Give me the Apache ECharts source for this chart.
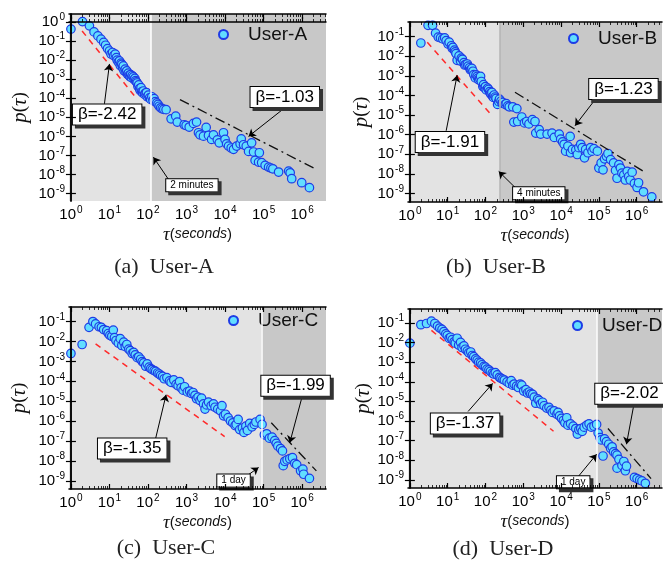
<!DOCTYPE html>
<html>
<head>
<meta charset="utf-8">
<script src="https://cdn.jsdelivr.net/npm/echarts@6/dist/echarts.min.js"></script>
<style>
html, body { margin: 0; padding: 0; background: #fff; }
#main { width: 663px; height: 563px; }
</style>
</head>
<body>
<div id="main"></div>
<script>
const chart = echarts.init(document.querySelector("#main"));

// points: [log10(tau seconds), log10(p)]
const userA = [[0.00,-0.37],[0.30,0.02],[0.48,-0.20],[0.60,-0.52],[0.70,-0.73],[0.78,-0.90],[0.85,-1.07],[0.90,-1.22],[0.95,-1.40],[1.00,-1.52],[1.04,-1.68],[1.08,-1.60],[1.11,-1.76],[1.15,-1.69],[1.18,-1.87],[1.20,-2.00],[1.23,-2.10],[1.26,-2.04],[1.28,-2.28],[1.30,-2.16],[1.32,-2.22],[1.34,-2.40],[1.36,-2.30],[1.38,-2.56],[1.41,-2.47],[1.43,-2.62],[1.45,-2.56],[1.47,-2.74],[1.49,-2.68],[1.51,-2.80],[1.53,-2.86],[1.55,-2.76],[1.57,-2.92],[1.59,-2.82],[1.62,-2.88],[1.64,-3.02],[1.66,-2.96],[1.68,-3.08],[1.70,-3.14],[1.72,-3.20],[1.74,-3.38],[1.76,-3.30],[1.78,-3.50],[1.80,-3.60],[1.82,-3.44],[1.84,-3.66],[1.86,-3.72],[1.88,-3.62],[1.91,-3.80],[1.93,-3.74],[1.96,-3.70],[1.98,-3.92],[2.01,-3.84],[2.04,-3.98],[2.07,-4.06],[2.10,-3.92],[2.13,-4.12],[2.16,-4.02],[2.19,-4.18],[2.23,-4.24],[2.26,-4.32],[2.29,-4.42],[2.33,-4.50],[2.37,-4.55],[2.41,-4.58],[2.47,-4.60],[2.60,-5.08],[2.72,-4.94],[2.76,-5.25],[2.94,-5.39],[2.99,-5.43],[3.07,-5.51],[3.18,-5.32],[3.26,-5.25],[3.31,-5.81],[3.35,-5.92],[3.44,-5.99],[3.51,-5.53],[3.57,-5.95],[3.65,-6.16],[3.70,-5.92],[3.80,-6.18],[3.85,-6.34],[3.96,-5.81],[4.00,-6.16],[4.04,-6.39],[4.09,-6.51],[4.16,-6.61],[4.22,-6.68],[4.30,-6.51],[4.39,-6.39],[4.42,-6.13],[4.48,-6.44],[4.55,-6.51],[4.61,-6.79],[4.69,-6.34],[4.74,-6.82],[4.89,-6.86],[4.78,-7.26],[4.87,-7.35],[4.95,-7.38],[5.04,-7.52],[5.13,-7.61],[5.19,-7.66],[5.24,-7.70],[5.39,-7.87],[5.65,-7.82],[5.69,-7.91],[5.73,-8.22],[5.99,-8.43],[6.19,-8.69]];

const userB = [[0.29,-1.33],[0.48,-0.43],[0.60,-0.43],[0.68,-0.83],[0.75,-1.03],[0.81,-1.07],[0.87,-1.12],[0.92,-1.07],[0.96,-1.21],[1.01,-1.38],[1.04,-1.29],[1.10,-1.47],[1.12,-1.60],[1.14,-1.55],[1.18,-1.69],[1.20,-1.78],[1.22,-1.87],[1.25,-2.21],[1.30,-1.99],[1.34,-2.25],[1.36,-2.10],[1.39,-2.16],[1.43,-2.33],[1.45,-2.45],[1.48,-2.42],[1.52,-2.40],[1.54,-2.51],[1.58,-2.59],[1.60,-2.70],[1.62,-2.68],[1.64,-2.62],[1.67,-2.77],[1.69,-2.94],[1.73,-3.11],[1.75,-2.95],[1.78,-3.03],[1.80,-3.12],[1.82,-3.20],[1.85,-3.15],[1.87,-3.03],[1.89,-3.29],[1.93,-3.55],[1.95,-3.45],[1.97,-3.60],[2.00,-3.55],[2.02,-3.72],[2.06,-3.63],[2.08,-3.70],[2.11,-3.81],[2.13,-3.90],[2.15,-3.94],[2.17,-3.85],[2.19,-4.06],[2.21,-4.10],[2.23,-3.98],[2.26,-4.08],[2.28,-4.15],[2.32,-4.46],[2.35,-4.32],[2.37,-4.19],[2.41,-4.29],[2.44,-4.40],[2.46,-4.36],[2.52,-4.46],[2.55,-4.42],[2.59,-4.53],[2.63,-4.58],[2.72,-4.58],[2.83,-4.67],[2.75,-5.36],[2.85,-5.33],[2.96,-5.10],[3.03,-5.40],[3.09,-5.33],[3.15,-5.45],[3.24,-5.23],[3.31,-5.33],[3.33,-5.92],[3.42,-5.74],[3.46,-5.97],[3.63,-5.97],[3.76,-5.92],[3.82,-6.14],[3.95,-5.97],[3.99,-6.23],[4.04,-6.37],[4.08,-6.49],[4.12,-6.84],[4.18,-6.58],[4.24,-6.09],[4.25,-6.92],[4.30,-6.75],[4.39,-6.78],[4.43,-7.01],[4.47,-6.66],[4.52,-6.49],[4.56,-6.66],[4.62,-7.18],[4.65,-6.75],[4.71,-6.92],[4.78,-6.66],[4.82,-6.84],[4.87,-6.71],[4.96,-6.84],[5.00,-7.70],[5.06,-7.44],[5.11,-7.79],[5.15,-7.23],[5.20,-7.10],[5.24,-6.96],[5.31,-7.27],[5.39,-7.44],[5.44,-7.82],[5.48,-8.22],[5.53,-7.53],[5.57,-7.70],[5.61,-7.96],[5.66,-8.05],[5.70,-8.31],[5.75,-7.87],[5.79,-8.13],[5.83,-8.31],[5.88,-7.91],[5.94,-8.48],[6.01,-8.69],[6.05,-8.45],[6.18,-8.91],[6.40,-9.17]];

const userC = [[0.00,-2.60],[0.29,-2.15],[0.47,-1.29],[0.57,-1.00],[0.64,-1.12],[0.73,-1.26],[0.79,-1.29],[0.85,-1.40],[0.93,-1.46],[0.97,-1.60],[1.01,-1.69],[1.06,-1.74],[1.10,-1.43],[1.13,-1.81],[1.17,-1.95],[1.23,-2.08],[1.28,-1.86],[1.32,-2.20],[1.37,-2.03],[1.41,-2.26],[1.45,-2.15],[1.50,-2.38],[1.54,-2.46],[1.59,-2.60],[1.63,-2.55],[1.67,-2.67],[1.72,-2.81],[1.76,-2.77],[1.81,-2.89],[1.85,-3.01],[1.89,-3.07],[1.94,-3.24],[1.98,-3.12],[2.03,-3.29],[2.07,-3.36],[2.11,-3.41],[2.16,-3.46],[2.20,-3.50],[2.25,-3.58],[2.29,-3.63],[2.33,-3.70],[2.38,-3.75],[2.42,-3.87],[2.49,-3.81],[2.56,-3.98],[2.60,-4.05],[2.67,-3.93],[2.73,-4.15],[2.78,-4.22],[2.82,-4.01],[2.86,-4.32],[2.91,-4.44],[2.95,-4.27],[3.02,-4.53],[3.08,-4.49],[3.13,-4.61],[3.17,-4.56],[3.22,-4.70],[3.26,-4.87],[3.30,-4.79],[3.35,-4.96],[3.39,-4.84],[3.44,-5.13],[3.48,-5.39],[3.52,-5.18],[3.57,-5.04],[3.64,-5.22],[3.70,-5.13],[3.74,-5.30],[3.81,-5.39],[3.88,-5.48],[3.92,-5.22],[3.96,-5.73],[4.01,-5.65],[4.08,-5.82],[4.14,-5.99],[4.20,-6.08],[4.26,-6.22],[4.29,-6.16],[4.34,-5.91],[4.38,-6.42],[4.45,-6.34],[4.49,-6.56],[4.54,-6.25],[4.58,-6.46],[4.64,-6.11],[4.70,-6.28],[4.76,-6.16],[4.80,-6.04],[4.91,-5.91],[4.96,-6.16],[5.02,-6.68],[5.08,-6.63],[5.15,-6.85],[5.22,-6.80],[5.29,-6.97],[5.33,-7.11],[5.37,-7.25],[5.44,-7.37],[5.49,-7.49],[5.51,-8.23],[5.55,-8.01],[5.61,-7.94],[5.68,-7.88],[5.75,-7.83],[5.81,-8.11],[5.86,-8.18],[5.96,-8.49],[6.02,-8.40],[6.04,-8.66],[6.19,-8.87]];

const userD = [[0.00,-2.03],[0.29,-1.09],[0.44,-1.03],[0.57,-0.91],[0.66,-1.03],[0.73,-1.16],[0.79,-1.26],[0.85,-1.33],[0.90,-1.44],[0.95,-1.56],[0.99,-1.64],[1.04,-1.78],[1.08,-1.73],[1.12,-1.85],[1.17,-1.96],[1.20,-2.03],[1.25,-1.78],[1.29,-2.13],[1.34,-1.99],[1.38,-2.25],[1.43,-2.17],[1.47,-2.34],[1.52,-2.43],[1.56,-2.52],[1.61,-2.48],[1.65,-2.66],[1.69,-2.72],[1.74,-2.83],[1.78,-2.90],[1.82,-3.00],[1.87,-3.04],[1.91,-3.13],[1.96,-3.21],[2.00,-3.25],[2.04,-3.35],[2.09,-3.39],[2.13,-3.47],[2.18,-3.56],[2.22,-3.60],[2.26,-3.53],[2.31,-3.65],[2.37,-3.77],[2.41,-3.82],[2.46,-3.87],[2.50,-3.91],[2.57,-4.00],[2.63,-4.08],[2.68,-3.94],[2.72,-4.17],[2.76,-4.12],[2.82,-4.22],[2.87,-4.29],[2.92,-4.12],[2.96,-4.17],[3.01,-4.47],[3.07,-4.40],[3.11,-4.57],[3.16,-4.52],[3.20,-4.61],[3.25,-4.64],[3.29,-4.78],[3.33,-5.09],[3.38,-4.87],[3.42,-4.95],[3.46,-5.13],[3.51,-5.04],[3.55,-5.22],[3.62,-5.34],[3.68,-5.30],[3.73,-5.44],[3.77,-5.56],[3.82,-5.48],[3.89,-5.65],[3.92,-5.56],[3.96,-5.74],[4.01,-5.86],[4.06,-5.97],[4.10,-6.09],[4.15,-5.83],[4.18,-6.21],[4.25,-6.14],[4.32,-6.26],[4.39,-6.38],[4.43,-6.66],[4.47,-6.44],[4.52,-6.38],[4.56,-6.52],[4.61,-6.31],[4.68,-6.21],[4.74,-6.14],[4.80,-6.31],[4.87,-6.26],[4.94,-6.17],[4.98,-6.61],[5.03,-6.84],[5.06,-6.96],[5.11,-7.78],[5.15,-6.91],[5.20,-7.05],[5.26,-7.18],[5.31,-7.39],[5.35,-7.31],[5.39,-7.57],[5.44,-7.66],[5.48,-7.74],[5.53,-7.95],[5.48,-8.40],[5.61,-8.26],[5.66,-8.06],[5.70,-8.53],[5.73,-8.30],[5.94,-8.87],[6.01,-8.93],[6.08,-9.00],[6.14,-9.05],[6.23,-9.17]];

const users = ["User-A", "User-B", "User-C", "User-D"];
const captions = ["(a)  User-A", "(b)  User-B", "(c)  User-C", "(d)  User-D"];

// power-law guides, [start, end] in log10 units
const redFits = [
    [[0.29, -0.47], [1.71, -4.03]],
    [[0.46, -1.29], [2.15, -4.98]],
    [[0.64, -2.12], [3.99, -6.77]],
    [[0.57, -1.38], [3.80, -6.52]]
];
const blackFits = [
    [[2.83, -4.07], [6.34, -7.70]],
    [[2.78, -3.84], [6.23, -7.93]],
    [[5.20, -6.08], [6.37, -8.49]],
    [[5.24, -6.38], [6.38, -8.93]]
];
const betaRed = ["β=-2.42", "β=-1.91", "β=-1.35", "β=-1.37"];
const betaBlack = ["β=-1.03", "β=-1.23", "β=-1.99", "β=-2.02"];
// regime boundary in seconds
const thresholdSec = [120, 240, 86400, 86400];
const thresholdText = ["2 minutes", "4 minutes", "1 day", "1 day"];
const xTicks = [0, 1, 2, 3, 4, 5, 6];

// placement of the panels and annotations (positions, not data)
const layout = [
    { left: 69, top: 14, width: 257, height: 187, x: [-0.05, 6.62], y: [-9.39, 0.42], nameGap: 38, cap: [164, 267], legend: [218, 25],
      boxRed: [0.94, -4.85], boxBlack: [5.55, -3.94], boxThr: [3.14, -8.57],
      arrRed: [[0.87, -4.29], [1.0, -2.2]], arrBlack: [[5.52, -4.55], [4.61, -6.0]], arrThr: [[2.53, -8.25], [2.14, -7.09]], thrLine: "#ffffff" },
    { left: 408, top: 22, width: 254, height: 180, x: [-0.05, 6.67], y: [-9.43, -0.26], nameGap: 36, cap: [496, 267], legend: [568, 29],
      boxRed: [1.06, -6.37], boxBlack: [5.65, -3.67], boxThr: [3.41, -8.98],
      arrRed: [[0.96, -5.8], [1.25, -2.97]], arrBlack: [[4.87, -4.29], [4.37, -5.54]], arrThr: [[2.81, -8.74], [2.35, -7.87]], thrLine: "#b4b4b4" },
    { left: 69, top: 307, width: 257, height: 182, x: [-0.05, 6.62], y: [-9.4, -0.27], nameGap: 39, cap: [166, 548], legend: [228, 311],
      boxRed: [1.59, -7.37], boxBlack: [5.83, -4.22], boxThr: [4.22, -8.97],
      arrRed: [[2.2, -6.85], [2.47, -4.67]], arrBlack: [[5.99, -4.84], [5.68, -7.08]], arrThr: [[4.56, -8.75], [4.87, -8.32]], thrLine: "#ffffff" },
    { left: 408, top: 309, width: 254, height: 179, x: [-0.05, 6.67], y: [-9.41, -0.29], nameGap: 34, cap: [503, 549], legend: [572, 316],
      boxRed: [1.46, -6.12], boxBlack: [5.81, -4.61], boxThr: [4.32, -9.12],
      arrRed: [[1.54, -5.51], [2.19, -4.08]], arrBlack: [[5.92, -5.22], [5.73, -7.18]], arrThr: [[4.47, -8.79], [4.94, -7.69]], thrLine: "#ffffff" }
];

const allData = [userA, userB, userC, userD];
const sans = "Liberation Sans";
const serif = "Liberation Serif";

function minorTicks(max) {
    const out = [];
    for (let n = 0; n <= 6; n++) {
        for (let k = 2; k <= 9; k++) {
            const v = n + Math.log10(k);
            if (v < max) out.push(v);
        }
    }
    return out;
}

const powRich = {
    s: { fontSize: 10, fontFamily: sans, color: "#000", verticalAlign: "top", padding: [0, 0, 0, 1] }
};
const powFmt = (v) => "10{s|" + Math.round(v) + "}";
const tickLabel = { fontSize: 15, fontFamily: sans, color: "#000", lineHeight: 19, formatter: powFmt, rich: powRich, margin: 4 };

function boxLabel(text, small) {
    return {
        show: true,
        position: "inside",
        formatter: text,
        color: "#000",
        fontFamily: sans,
        fontSize: small ? 10 : 17,
        backgroundColor: "#fff",
        borderColor: "#000",
        borderWidth: 1,
        padding: small ? [1, 4, 1, 4] : [2, 5, 1, 5],
        shadowColor: "#333",
        shadowOffsetX: 3,
        shadowOffsetY: 3,
        shadowBlur: 0
    };
}

const grids = [], xAxes = [], yAxes = [], series = [], legends = [], graphics = [];

layout.forEach((L, i) => {
    grids.push({ left: L.left, top: L.top, width: L.width, height: L.height, containLabel: false });
    const yTicks = [];
    for (let v = 0; v >= -9; v--) if (v <= L.y[1] && v >= L.y[0]) yTicks.push(v);
    const minor = minorTicks(L.x[1]);
    const line = { lineStyle: { color: "#000", width: 1.5 } };

    xAxes.push({
        gridIndex: i, type: "value", position: "bottom", min: L.x[0], max: L.x[1], z: 6,
        axisLine: line,
        axisTick: { inside: true, length: 5, customValues: xTicks, lineStyle: { color: "#000", width: 1.2 } },
        axisLabel: Object.assign({ customValues: xTicks }, tickLabel),
        splitLine: { show: false },
        name: "{t|τ}({s|seconds})", nameLocation: "middle", nameGap: 24,
        nameTextStyle: { fontFamily: sans, fontSize: 15, color: "#111",
            rich: { t: { fontFamily: serif, fontStyle: "italic", fontSize: 19, color: "#111" },
                    s: { fontFamily: sans, fontStyle: "italic", fontSize: 14, color: "#111" } } }
    });
    xAxes.push({
        gridIndex: i, type: "value", position: "bottom", min: L.x[0], max: L.x[1], z: 6,
        axisLine: { show: false },
        axisTick: { inside: true, length: 3, customValues: minor, lineStyle: { color: "#000", width: 0.8 } },
        axisLabel: { show: false }, splitLine: { show: false }
    });
    xAxes.push({
        gridIndex: i, type: "value", position: "top", min: L.x[0], max: L.x[1], z: 6,
        axisLine: line,
        axisTick: { inside: true, length: 5, customValues: xTicks, lineStyle: { color: "#000", width: 1.2 } },
        axisLabel: { show: false }, splitLine: { show: false }
    });
    xAxes.push({
        gridIndex: i, type: "value", position: "top", min: L.x[0], max: L.x[1], z: 6,
        axisLine: { show: false },
        axisTick: { inside: true, length: 3, customValues: minor, lineStyle: { color: "#000", width: 0.8 } },
        axisLabel: { show: false }, splitLine: { show: false }
    });
    yAxes.push({
        gridIndex: i, type: "value", position: "left", min: L.y[0], max: L.y[1], z: 6,
        axisLine: line,
        axisTick: { inside: true, length: 5, customValues: yTicks, lineStyle: { color: "#000", width: 1.2 } },
        axisLabel: Object.assign({ customValues: yTicks }, tickLabel),
        splitLine: { show: false },
        name: "{i|p}({i|τ})", nameLocation: "middle", nameRotate: 90, nameGap: L.nameGap,
        nameTextStyle: { fontFamily: serif, fontSize: 19, color: "#111",
            rich: { i: { fontFamily: serif, fontStyle: "italic", fontSize: 21, color: "#111" } } }
    });
    yAxes.push({
        gridIndex: i, type: "value", position: "right", min: L.y[0], max: L.y[1], z: 6,
        axisLine: line,
        axisTick: { inside: true, length: 5, customValues: yTicks, lineStyle: { color: "#000", width: 1.2 } },
        axisLabel: { show: false }, splitLine: { show: false }
    });

    const thr = Math.log10(thresholdSec[i]);
    const xi = 4 * i, yi = 2 * i;

    // shaded regimes and boundary line
    series.push({
        type: "line", data: [], xAxisIndex: xi, yAxisIndex: yi, z: 1, silent: true,
        markArea: {
            silent: true,
            data: [
                [{ xAxis: L.x[0], itemStyle: { color: "#e3e3e3" } }, { xAxis: thr }],
                [{ xAxis: thr, itemStyle: { color: "#c8c8c8" } }, { xAxis: L.x[1] }]
            ]
        },
        markLine: {
            silent: true, symbol: "none", label: { show: false },
            lineStyle: { color: L.thrLine, width: 1.5, type: "solid" },
            data: [{ xAxis: thr }]
        }
    });

    series.push({
        name: users[i], type: "scatter", data: allData[i], xAxisIndex: xi, yAxisIndex: yi, z: 3,
        symbol: "circle", symbolSize: 8.5,
        itemStyle: { color: "#62deff", borderColor: "#1e3ce6", borderWidth: 1.2, opacity: 1 }
    });

    series.push({
        type: "line", data: redFits[i], xAxisIndex: xi, yAxisIndex: yi, z: 4, silent: true,
        symbol: "none", lineStyle: { color: "#ff2a2a", width: 1.5, type: [6, 5] }
    });

    series.push({
        type: "line", data: blackFits[i], xAxisIndex: xi, yAxisIndex: yi, z: 4, silent: true,
        symbol: "none", lineStyle: { color: "#111", width: 1.3, type: [10, 4, 2, 4] },
        markLine: {
            silent: true, symbol: ["none", "arrow"], symbolSize: 7, label: { show: false },
            lineStyle: { color: "#000", width: 1, type: "solid" },
            data: [
                [{ coord: L.arrRed[0] }, { coord: L.arrRed[1] }],
                [{ coord: L.arrBlack[0] }, { coord: L.arrBlack[1] }],
                [{ coord: L.arrThr[0] }, { coord: L.arrThr[1] }]
            ]
        },
        markPoint: {
            silent: true, symbol: "rect", symbolSize: 1, itemStyle: { color: "rgba(0,0,0,0)" },
            data: [
                { coord: L.boxRed, label: boxLabel(betaRed[i], false) },
                { coord: L.boxBlack, label: boxLabel(betaBlack[i], false) },
                { coord: L.boxThr, label: boxLabel(thresholdText[i], true) }
            ]
        }
    });

    legends.push({
        data: [users[i]], left: L.legend[0], top: L.legend[1], padding: 0,
        icon: "circle", itemWidth: 9, itemHeight: 9, selectedMode: false,
        textStyle: { fontFamily: sans, fontSize: 19, color: "#111", padding: [0, 0, 0, 15] }
    });

    graphics.push({
        type: "text", x: L.cap[0], y: L.cap[1],
        style: { text: captions[i], font: '22px "Liberation Serif"', fill: "#222", align: "center", verticalAlign: "middle" }
    });
});

chart.setOption({
    animation: false,
    backgroundColor: "#fff",
    grid: grids,
    xAxis: xAxes,
    yAxis: yAxes,
    legend: legends,
    series: series,
    graphic: graphics
});
</script>
</body>
</html>
